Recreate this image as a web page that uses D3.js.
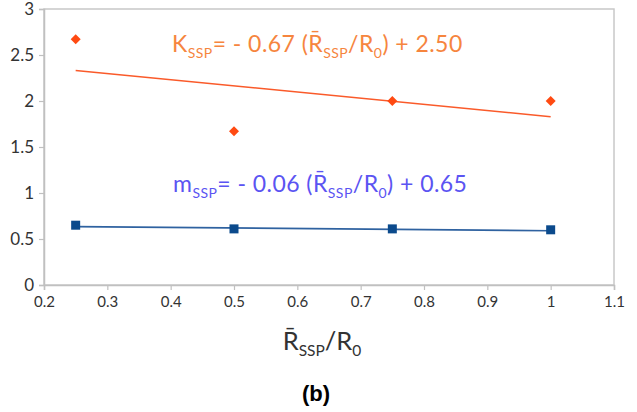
<!DOCTYPE html>
<html><head><meta charset="utf-8">
<script src="https://cdn.jsdelivr.net/npm/d3@7/dist/d3.min.js"></script>
<style>body{margin:0;background:#fff}svg{display:block}</style>
</head><body><svg id="c" width="637" height="412"></svg>
<script>
const xValues = [0.25, 0.5, 0.75, 1.0];
const kValues = [2.67, 1.67, 2.0, 2.0];
const mValues = [0.65, 0.61, 0.61, 0.60];
const kFit = {slope: -0.67, intercept: 2.50};
const mFit = {slope: -0.06, intercept: 0.65};
const xTicks = [0.2,0.3,0.4,0.5,0.6,0.7,0.8,0.9,1,1.1];
const yTicks = [0,0.5,1,1.5,2,2.5,3];

const svg = d3.select("#c");
const L=44, R=614, T=9, B=285;
const x = d3.scaleLinear().domain([0.2,1.1]).range([L,R]);
const y = d3.scaleLinear().domain([0,3]).range([B,T]);
const font = "Lato, 'Noto Sans', sans-serif";

// frame
svg.append("rect").attr("x",L).attr("y",T).attr("width",R-L).attr("height",B-T)
  .attr("fill","none").attr("stroke","#c8c8c8").attr("stroke-width",1.5);

const ya = svg.append("g").attr("transform",`translate(${L},0)`)
  .call(d3.axisLeft(y).tickValues(yTicks).tickFormat(d3.format("~g")).tickSize(5).tickPadding(5));
const xa = svg.append("g").attr("transform",`translate(0,${B})`)
  .call(d3.axisBottom(x).tickValues(xTicks).tickFormat(d3.format("~g")).tickSize(5).tickPadding(6));
[ya,xa].forEach(a=>{
  a.select(".domain").attr("stroke","#c0c0c0").attr("stroke-width",1.5);
  a.selectAll(".tick line").attr("stroke","#c0c0c0").attr("stroke-width",1.2);
  a.selectAll("text").attr("fill","#333").attr("font-family",font);
});
ya.selectAll("text").attr("font-size",17).attr("dy","0.34em");
xa.selectAll("text").attr("font-size",15);

// fit lines
const x0 = d3.min(xValues), x1 = d3.max(xValues);
svg.append("line").attr("x1",x(x0)).attr("x2",x(x1))
  .attr("y1",y(kFit.intercept+kFit.slope*x0)).attr("y2",y(kFit.intercept+kFit.slope*x1))
  .attr("stroke","#fa5a2a").attr("stroke-width",1.5);
svg.append("line").attr("x1",x(x0)).attr("x2",x(x1))
  .attr("y1",y(mFit.intercept+mFit.slope*x0)).attr("y2",y(mFit.intercept+mFit.slope*x1))
  .attr("stroke","#2f62a0").attr("stroke-width",1.6);

// markers
svg.selectAll(".k").data(xValues).enter().append("path")
  .attr("transform",(d,i)=>`translate(${x(d)},${y(kValues[i])})`)
  .attr("d","M0,-5L5,0L0,5L-5,0Z")
  .attr("fill","#ff4a12");
svg.selectAll(".m").data(xValues).enter().append("rect")
  .attr("x",d=>x(d)-4.5).attr("y",(d,i)=>y(mValues[i])-4.5).attr("width",9).attr("height",9)
  .attr("fill","#0b4a8c");

// equations
function eq(xp, yp, color, first, rest){
  const t = svg.append("text").attr("x",xp).attr("y",yp).attr("fill",color)
    .attr("font-family",font).attr("font-size",23).attr("letter-spacing",0.45);
  t.append("tspan").text(first);
  t.append("tspan").attr("font-size",14).attr("dy",6).text("SSP");
  t.append("tspan").attr("dy",-6).text(rest[0]);
  t.append("tspan").attr("font-size",14).attr("dy",6).text("SSP");
  t.append("tspan").attr("dy",-6).text("/R");
  t.append("tspan").attr("font-size",14).attr("dy",6).text("0");
  t.append("tspan").attr("dy",-6).text(rest[1]);
}
eq(172, 52, "#f6853e", "K", ["= - 0.67 (R\u0304", ") + 2.50"]);
eq(173, 192, "#5b54f2", "m", ["= - 0.06 (R\u0304", ") + 0.65"]);

// x title
const xt = svg.append("text").attr("x",322).attr("y",350).attr("text-anchor","middle")
  .attr("fill","#333").attr("font-family",font).attr("font-size",25.5);
xt.append("tspan").text("R\u0304");
xt.append("tspan").attr("font-size",15.5).attr("dy",6).text("SSP");
xt.append("tspan").attr("dy",-6).text("/R");
xt.append("tspan").attr("font-size",15.5).attr("dy",6).text("0");

svg.append("text").attr("x",316).attr("y",401).attr("text-anchor","middle")
  .attr("font-family","'Liberation Sans', Arial, sans-serif").attr("font-weight","bold")
  .attr("font-size",22).attr("fill","#000").text("(b)");
</script></body></html>
